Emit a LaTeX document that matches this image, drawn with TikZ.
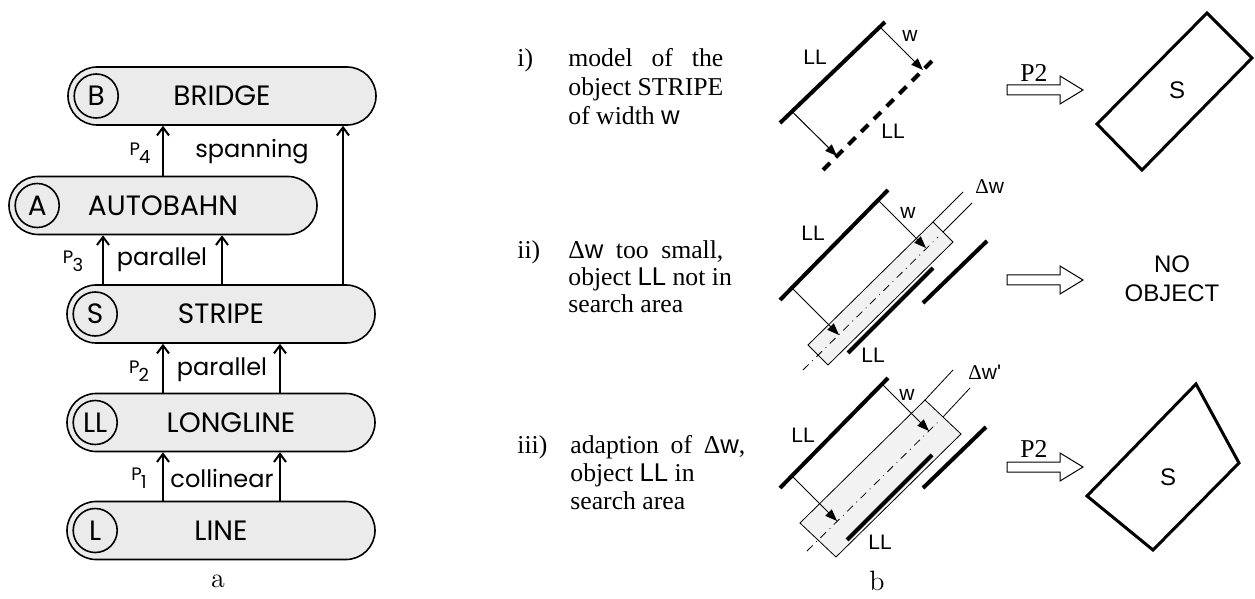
\documentclass[tikz,border=0pt]{standalone}
\usepackage{fontspec}
\usetikzlibrary{shapes.misc,arrows.meta}
\newfontfamily\timesf{Liberation Serif}
\newfontfamily\helvf{Liberation Sans}
\newfontfamily\agf{Poppins}
\definecolor{pillgray}{gray}{0.92}
\newcommand\Pidx[1]{P\kern-0.4pt\raisebox{-4pt}{#1}}

\begin{document}
\begin{tikzpicture}[x=0.5pt,y=-0.5pt,%
        pill/.style={rounded rectangle, draw, line width=0.8pt, fill=pillgray,%
                        minimum width=154pt, minimum height=29pt, inner sep=0pt,%
                        font=\agf\fontsize{14}{15}\selectfont},
        tag/.style={circle, draw, line width=0.8pt, minimum size=22pt, inner sep=0pt,%
                        font=\agf\fontsize{14}{15}\selectfont},
        up/.style={-{Straight Barb[length=4pt,width=6pt]}, line width=1pt},
        rel/.style={font=\agf\fontsize{12}{14}\selectfont, inner sep=0pt},
        pl/.style={font=\agf\fontsize{9}{10}\selectfont, inner sep=0pt},
        desc/.style={font=\timesf\fontsize{12.85}{14}\selectfont, inner sep=0pt},
        sans/.style={font=\helvf\fontsize{10.5}{14.5}\selectfont, inner sep=0pt},
        big/.style={font=\helvf\fontsize{12}{14.5}\selectfont, inner sep=0pt},
        sub/.style={font=\fontsize{14}{16}\selectfont, inner sep=0pt},
        ll/.style={line width=2pt},
        dim/.style={-{Triangle[length=6pt,width=4.5pt]}, line width=0.5pt},
        fine/.style={line width=0.4pt},
        axis/.style={line width=0.4pt, dash pattern=on 4pt off 2.5pt on 0.4pt off 2.5pt},
        area/.style={draw, line width=0.4pt, fill=gray!10},
        hollow/.style={draw, line width=0.5pt, fill=white},
        result/.style={draw, line width=1.5pt, line join=miter}]

\useasboundingbox (0,0) rectangle (1255,599);

% a: object hierarchy
\node[pill] (bridge) at (222,96) {BRIDGE};
\node[pill] (autobahn) at (163,205.5) {AUTOBAHN};
\node[pill] (stripe) at (221,314) {STRIPE};
\node[pill] (longline) at (221,422.5) {\hspace*{10pt}LONGLINE};
\node[pill] (line) at (221,530.5) {LINE};

\node[tag] (tagB) at ([xshift=14.5pt]bridge.west) {B};
\node[tag] (tagA) at ([xshift=14.5pt]autobahn.west) {A};
\node[tag] (tagS) at ([xshift=14.5pt]stripe.west) {S};
\node[tag] (tagLL) at ([xshift=14.5pt]longline.west) {LL};
\node[tag] (tagL) at ([xshift=14.5pt]line.west) {L};

\coordinate (ax1) at (163,0);
\coordinate (ax2) at (280,0);
\coordinate (ax3) at (103,0);
\coordinate (ax4) at (222,0);
\coordinate (ax5) at (343,0);

\draw[up] (line.north -| ax1) -- (longline.south -| ax1);
\draw[up] (line.north -| ax2) -- (longline.south -| ax2);
\draw[up] (longline.north -| ax1) -- (stripe.south -| ax1);
\draw[up] (longline.north -| ax2) -- (stripe.south -| ax2);
\draw[up] (stripe.north -| ax3) -- (autobahn.south -| ax3);
\draw[up] (stripe.north -| ax4) -- (autobahn.south -| ax4);
\draw[up] (autobahn.north -| ax1) -- (bridge.south -| ax1);
\draw[up] (stripe.north -| ax5) -- (bridge.south -| ax5);

\node[pl] (p1) at (139,478) {\Pidx{1}};
\node[pl] (p2) at (139,371) {\Pidx{2}};
\node[pl] (p3) at (73,261) {\Pidx{3}};
\node[pl] (p4) at (140,153) {\Pidx{4}};
\node[rel] (collinear) at (222,478) {collinear};
\node[rel] (parallel2) at (222,370) {parallel};
\node[rel] (parallel3) at (162,260) {parallel};
\node[rel] (spanning) at (252,152) {spanning};

\node[sub] (capA) at (218,581) {a};

% b: model and search area
\node[desc, anchor=base west] (iNum) at (517,66.5) {i)};
\node[desc, anchor=base west] (i1) at (568,66.5) {\makebox[77.5pt][s]{model of the}};
\node[desc, anchor=base west] (i2) at (568,95.5) {object STRIPE};
\node[desc, anchor=base west] (i3) at (568,124.5) {of width {\helvf w}};

\node[desc, anchor=base west] (iiNum) at (517,258.5) {ii)};
\node[desc, anchor=base west] (ii1) at (568,258.5) {\makebox[77.5pt][s]{Δ{\helvf w} too small,}};
\node[desc, anchor=base west] (ii2) at (568,285.5) {object {\helvf LL} not in};
\node[desc, anchor=base west] (ii3) at (568,312.5) {search area};

\node[desc, anchor=base west] (iiiNum) at (517,453.5) {iii)};
\node[desc, anchor=base west] (iii1) at (570,453.5) {\makebox[87.5pt][s]{adaption of Δ{\helvf w},}};
\node[desc, anchor=base west] (iii2) at (570,481.5) {object {\helvf LL} in};
\node[desc, anchor=base west] (iii3) at (570,509.5) {search area};

% i) model
\draw[ll] (780,123) -- (885,22);
\draw[ll, dash pattern=on 5pt off 4pt] (823,170) -- (935,58);
\draw[dim] (880,27) -- (923,70);
\draw[dim] (792,111.5) -- (837,156);
\node[sans] (iw) at (910,36) {w};
\node[sans] (iLL1) at (815,57) {LL};
\node[sans] (iLL2) at (893,131) {LL};

\draw[hollow] (1007,85) -- (1060,85) -- (1060,76) -- (1083,90)
    -- (1060,104) -- (1060,95) -- (1007,95) -- cycle;
\node[desc] (iP2) at (1034,73) {P2};
\draw[result] (1207,13) -- (1252,58) -- (1142,170) -- (1097,124) -- cycle;
\node[big] (iS) at (1177,90) {S};

% ii) search area too narrow
\draw[area] (808,345) -- (933,222) -- (953,242) -- (828,365) -- cycle;
\draw[axis] (803,370) -- (938,237);
\draw[fine] (933,222) -- (963,192);
\draw[fine] (943,232) -- (972,203);
\draw[ll] (780,300) -- (888,190);
\draw[dim] (878,200) -- (926,248);
\draw[dim] (792,288) -- (839,335);
\draw[ll] (848,353) -- (933,268);
\draw[ll] (923,303) -- (987,241);
\node[sans] (iiw) at (908,213) {w};
\node[sans] (iiLL1) at (813,233) {LL};
\node[sans] (iiLL2) at (873,355) {LL};
\node[sans, anchor=west] (iiDw) at (975,187) {{\timesf Δ}w};

\draw[hollow] (1007,275) -- (1060,275) -- (1060,266) -- (1083,280)
    -- (1060,294) -- (1060,285) -- (1007,285) -- cycle;
\node[big, align=center] (noObj) at (1172,279) {NO\\OBJECT};

% iii) adapted search area
\draw[area] (800,523) -- (925,400) -- (961,434) -- (836,557) -- cycle;
\draw[axis] (807,551) -- (940,420);
\draw[fine] (925,400) -- (953,370);
\draw[fine] (943,417) -- (970,388);
\draw[ll] (780,488) -- (888,378);
\draw[dim] (882,384) -- (929,431);
\draw[dim] (792,476) -- (837,521);
\draw[ll] (847,540) -- (932,455);
\draw[ll] (923,488) -- (986,427);
\node[sans] (iiiw) at (907,395) {w};
\node[sans] (iiiLL1) at (803,435) {LL};
\node[sans] (iiiLL2) at (880,542) {LL};
\node[sans, anchor=west] (iiiDw) at (968,372) {{\timesf Δ}w'};

\draw[hollow] (1007,462) -- (1060,462) -- (1060,453) -- (1083,467)
    -- (1060,481) -- (1060,472) -- (1007,472) -- cycle;
\node[desc] (iiiP2) at (1034,449) {P2};
\draw[result] (1196,384) -- (1239,463) -- (1153,550) -- (1087,496) -- cycle;
\node[big] (iiiS) at (1168,477) {S};

\node[sub] (capB) at (877,581) {b};
\end{tikzpicture}
\end{document}
